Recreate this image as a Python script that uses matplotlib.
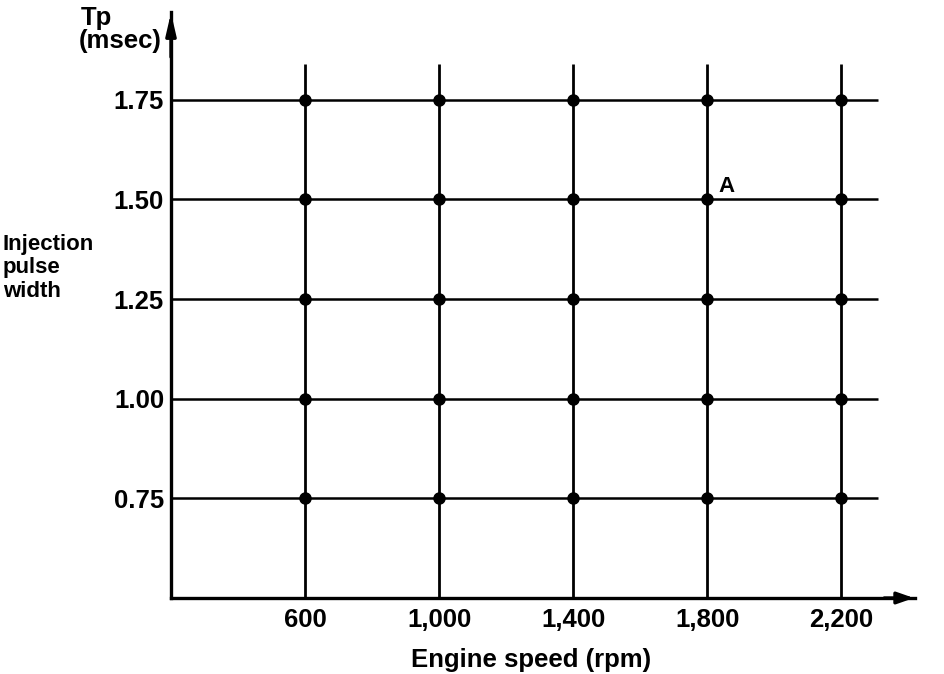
import matplotlib
matplotlib.use("Agg")
import matplotlib.pyplot as plt

# Data
engine_speeds = [600, 1000, 1400, 1800, 2200]
speed_labels = ["600", "1,000", "1,400", "1,800", "2,200"]
pulse_widths = [0.75, 1.00, 1.25, 1.50, 1.75]
pulse_labels = ["0.75", "1.00", "1.25", "1.50", "1.75"]
marked_point = (1800, 1.50, "A")

plt.rcParams['font.family'] = ['Liberation Sans', 'DejaVu Sans']
plt.rcParams['font.weight'] = 'bold'

W, H = 944, 674
fig = plt.figure(figsize=(W / 100, H / 100), dpi=100)

# axes box in pixel coordinates: origin at (171, 598), top-right at (915, 12)
x0, y0, x1, y1 = 171, 598, 915, 12
ax = fig.add_axes([x0 / W, (H - y0) / H, (x1 - x0) / W, (y0 - y1) / H])
ax.set_xlim(200, 2420)
ax.set_ylim(0.5, 1.97)

for s in ["top", "right"]:
    ax.spines[s].set_visible(False)
for s in ["left", "bottom"]:
    ax.spines[s].set_linewidth(2.4)
    ax.spines[s].set_color("black")

ax.set_xticks(engine_speeds)
ax.set_xticklabels(speed_labels, fontsize=18.5, fontweight='bold')
ax.set_yticks(pulse_widths)
ax.set_yticklabels(pulse_labels, fontsize=18.5, fontweight='bold')
ax.tick_params(length=0)
ax.tick_params(axis='x', pad=7)
ax.tick_params(axis='y', pad=5)

# arrows at axis ends
ax.annotate("", xy=(2425, 0.5), xytext=(2320, 0.5),
            arrowprops=dict(arrowstyle="-|>,head_length=1.0,head_width=0.35", color="black", lw=2.4),
            annotation_clip=False)
ax.annotate("", xy=(200, 1.975), xytext=(200, 1.85),
            arrowprops=dict(arrowstyle="-|>,head_length=1.3,head_width=0.3", color="black", lw=2.4),
            annotation_clip=False)

# grid lines
x_end = 2310
y_top = 1.84
for p in pulse_widths:
    ax.plot([200, x_end], [p, p], color="black", lw=1.8, solid_capstyle="butt")
for s in engine_speeds:
    ax.plot([s, s], [0.5, y_top], color="black", lw=2.0, solid_capstyle="butt")

# points
for s in engine_speeds:
    ax.plot([s] * len(pulse_widths), pulse_widths, 'o', color="black", markersize=8)

# marked point label
mx, my, mlab = marked_point
ax.annotate(mlab, xy=(mx, my), xytext=(8, 2), textcoords="offset points",
            fontsize=16, fontweight='bold', ha='left', va='bottom')

ax.set_xlabel("Engine speed (rpm)", fontsize=18.5, fontweight='bold', va='center')
ax.xaxis.set_label_coords(0.484, -(660 - y0) / (y0 - y1))

fig.text(81 / W, 1 - 18 / H, "Tp", fontsize=18.5, fontweight='bold', ha='left', va='center')
fig.text(79 / W, 1 - 41 / H, "(msec)", fontsize=18.5, fontweight='bold', ha='left', va='center')
fig.text(3 / W, 1 - 268 / H, "Injection\npulse\nwidth", fontsize=16, fontweight='bold',
         ha='left', va='center', linespacing=1.15)

fig.savefig("out.png", dpi=100, facecolor="white")
